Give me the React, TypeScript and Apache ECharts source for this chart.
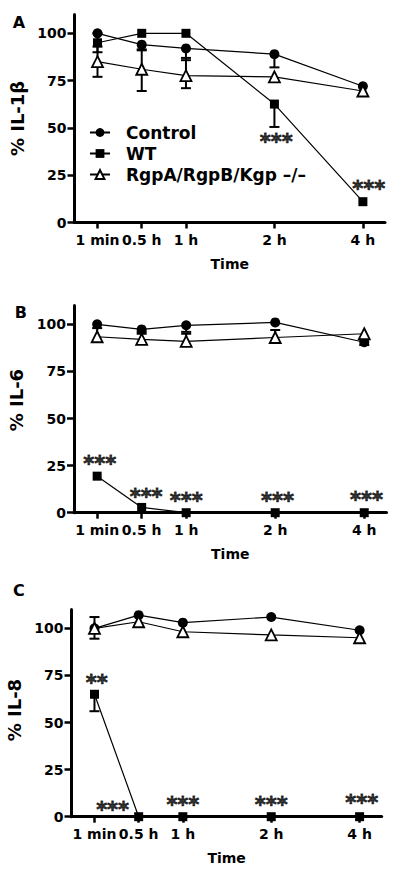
import React, { useEffect, useRef } from "react";
import * as echarts from "echarts";

const FONT = "DejaVu Sans";

const xPos = [0, 1, 2, 4, 6];
const xLabels = ["1 min", "0.5 h", "1 h", "2 h", "4 h"];
const yTicks = [0, 25, 50, 75, 100];
const seriesNames = ["Control", "WT", "RgpA/RgpB/Kgp \u2013/\u2013"];
const yNames = ["% IL-1\u03b2", "% IL-6", "% IL-8"];
const panelLetters = ["A", "B", "C"];

// Panel A (IL-1β)
const controlA = [100, 94, 92, 89, 72];
const wtA = [95, 100, 100, 62.6, 11];
const koA = [85, 81, 77.6, 77, 69.5];
const controlA_lo = [100, 91.5, 85.8, 82, 72];
const controlA_hi = [100, 94, 92, 89, 72];
const wtA_lo = [90, 100, 100, 50.5, 11];
const wtA_hi = [100, 100, 100, 62.6, 11];
const koA_lo = [77, 69.5, 71, 77, 69.5];
const koA_hi = [93, 91, 87, 77, 69.5];
const sigA: [number, number, string][] = [
  [4.04, 42.4, "***"],
  [6.13, 17.7, "***"],
];

// Panel B (IL-6)
const controlB = [100, 97.3, 99.5, 101, 90.5];
const wtB = [19.4, 2.8, 0, 0, 0];
const koB = [93.4, 92, 91, 93, 95];
const controlB_lo = [100, 95, 96, 101, 89];
const controlB_hi = [100, 97.3, 99.5, 101, 92];
const wtB_lo = [19.4, 2.8, 0, 0, 0];
const wtB_hi = [19.4, 2.8, 0, 0, 0];
const koB_lo = [93.4, 92, 91, 93, 95];
const koB_hi = [98, 96, 95, 97, 95];
const sigB: [number, number, string][] = [
  [0.06, 25.8, "***"],
  [1.1, 8.2, "***"],
  [2.0, 6, "***"],
  [4.05, 6, "***"],
  [6.05, 6.9, "***"],
];

// Panel C (IL-8)
const controlC = [100, 107, 103, 106, 99];
const wtC = [65, 0, 0, 0, 0];
const koC = [100, 103.5, 98.2, 96.5, 95];
const controlC_lo = [100, 107, 103, 106, 99];
const controlC_hi = [100, 107, 103, 106, 99];
const wtC_lo = [56, 0, 0, 0, 0];
const wtC_hi = [65, 0, 0, 0, 0];
const koC_lo = [94.5, 103.5, 98.2, 96.5, 95];
const koC_hi = [106, 103.5, 98.2, 96.5, 95];
const sigC: [number, number, string][] = [
  [0.05, 70.8, "**"],
  [0.41, 3.6, "***"],
  [2.0, 6.4, "***"],
  [4.0, 6.4, "***"],
  [6.05, 7.3, "***"],
];

const panels = [
  {
    control: controlA, wt: wtA, ko: koA,
    cLo: controlA_lo, cHi: controlA_hi, wLo: wtA_lo, wHi: wtA_hi, kLo: koA_lo, kHi: koA_hi,
    sig: sigA,
  },
  {
    control: controlB, wt: wtB, ko: koB,
    cLo: controlB_lo, cHi: controlB_hi, wLo: wtB_lo, wHi: wtB_hi, kLo: koB_lo, kHi: koB_hi,
    sig: sigB,
  },
  {
    control: controlC, wt: wtC, ko: koC,
    cLo: controlC_lo, cHi: controlC_hi, wLo: wtC_lo, wHi: wtC_hi, kLo: koC_lo, kHi: koC_hi,
    sig: sigC,
  },
];

// layout (pixels)
const grids = [
  { left: 74.5, right: 15, top: 14.4, height: 208.1 },
  { left: 74, right: 13.5, top: 305.5, height: 207.2 },
  { left: 71.5, right: 18.3, top: 609.5, height: 207.2 },
];
const namePadding = [
  [0, 0, 0, 0],
  [0, 0, 0, 18],
  [0, 0, 0, 6],
];
const letterPos = [
  [19.7, 23.3],
  [21.7, 313.3],
  [20, 591.7],
];

function errData(ys: number[], lo: number[], hi: number[]) {
  return xPos.map((x, i) => [x, ys[i], lo[i], hi[i]]);
}

function renderErr(params: any, api: any) {
  const x = api.value(0);
  const y = api.value(1);
  const lo = api.value(2);
  const hi = api.value(3);
  const children: any[] = [];
  const stroke = { stroke: "#000", lineWidth: 2 };
  const half = 5;
  if (lo < y) {
    const p0 = api.coord([x, y]);
    const p1 = api.coord([x, lo]);
    children.push({ type: "line", shape: { x1: p0[0], y1: p0[1], x2: p1[0], y2: p1[1] }, style: stroke });
    children.push({ type: "line", shape: { x1: p1[0] - half, y1: p1[1], x2: p1[0] + half, y2: p1[1] }, style: stroke });
  }
  if (hi > y) {
    const p0 = api.coord([x, y]);
    const p1 = api.coord([x, hi]);
    children.push({ type: "line", shape: { x1: p0[0], y1: p0[1], x2: p1[0], y2: p1[1] }, style: stroke });
    children.push({ type: "line", shape: { x1: p1[0] - half, y1: p1[1], x2: p1[0] + half, y2: p1[1] }, style: stroke });
  }
  return { type: "group", children };
}

export default function App() {
  const ref = useRef<HTMLDivElement>(null);
  useEffect(() => {
    if (!ref.current) return;
    const chart = echarts.init(ref.current, null, { renderer: "svg" });
    const textBase = { fontFamily: FONT, fontWeight: "bold" as const, color: "#000" };

    const grid = grids.map((g) => ({
      left: g.left,
      right: g.right,
      top: g.top,
      height: g.height,
      containLabel: false,
      outerBoundsMode: "none",
    }));

    const xAxis = grids.map((_, i) => ({
      type: "value",
      gridIndex: i,
      min: -0.52,
      max: 6.5,
      axisLine: { onZero: false, lineStyle: { color: "#000", width: 3 } },
      axisTick: { show: true, customValues: xPos, length: 6, lineStyle: { color: "#000", width: 2.5 } },
      axisLabel: {
        customValues: xPos,
        formatter: (v: number) => xLabels[xPos.indexOf(v)] ?? "",
        margin: 10,
        fontSize: 14,
        ...textBase,
      },
      splitLine: { show: false },
      name: "Time",
      nameLocation: "middle",
      nameGap: 34,
      nameTextStyle: { fontSize: 14, ...textBase },
    }));

    const yAxis = grids.map((_, i) => ({
      type: "value",
      gridIndex: i,
      min: 0,
      max: 110,
      axisLine: { show: true, onZero: false, lineStyle: { color: "#000", width: 3 } },
      axisTick: { show: true, customValues: yTicks, length: 7, lineStyle: { color: "#000", width: 2.5 } },
      axisLabel: { customValues: yTicks, margin: 8, fontSize: 14, ...textBase },
      splitLine: { show: false },
      name: yNames[i],
      nameLocation: "middle",
      nameRotate: 90,
      nameGap: 42,
      nameTextStyle: { fontSize: 18, ...textBase, padding: namePadding[i] },
    }));

    const series: any[] = [];
    panels.forEach((p, i) => {
      [
        errData(p.control, p.cLo, p.cHi),
        errData(p.wt, p.wLo, p.wHi),
        errData(p.ko, p.kLo, p.kHi),
      ].forEach((d) => {
        series.push({
          type: "custom",
          xAxisIndex: i,
          yAxisIndex: i,
          renderItem: renderErr,
          data: d,
          encode: { x: 0, y: [1, 2, 3] },
          z: 1,
          silent: true,
        });
      });
      series.push({
        name: seriesNames[0],
        type: "line",
        xAxisIndex: i,
        yAxisIndex: i,
        data: xPos.map((x, k) => [x, p.control[k]]),
        symbol: "circle",
        symbolSize: 10,
        lineStyle: { color: "#000", width: 1.2 },
        itemStyle: { color: "#000" },
        z: 3,
      });
      series.push({
        name: seriesNames[1],
        type: "line",
        xAxisIndex: i,
        yAxisIndex: i,
        data: xPos.map((x, k) => [x, p.wt[k]]),
        symbol: "rect",
        symbolSize: 9,
        lineStyle: { color: "#000", width: 1.2 },
        itemStyle: { color: "#000" },
        z: 3,
      });
      series.push({
        name: seriesNames[2],
        type: "line",
        xAxisIndex: i,
        yAxisIndex: i,
        data: xPos.map((x, k) => [x, p.ko[k]]),
        symbol: "triangle",
        symbolSize: 11,
        lineStyle: { color: "#000", width: 1.2 },
        itemStyle: { color: "#fff", borderColor: "#000", borderWidth: 1.8 },
        z: 3,
      });
      series.push({
        type: "scatter",
        xAxisIndex: i,
        yAxisIndex: i,
        data: p.sig,
        symbolSize: 0,
        silent: true,
        z: 4,
        itemStyle: { color: "#000" },
        label: {
          show: true,
          position: "inside",
          formatter: (prm: any) => prm.value[2],
          fontSize: 21,
          fontFamily: FONT,
          fontWeight: "bold",
          color: "#000",
          textBorderColor: "#000",
          textBorderWidth: 0.8,
        },
      });
    });

    chart.setOption({
      animation: false,
      backgroundColor: "#fff",
      grid,
      xAxis,
      yAxis,
      legend: {
        data: seriesNames,
        orient: "vertical",
        left: 84,
        top: 119,
        itemWidth: 20,
        itemHeight: 11,
        itemGap: 4,
        textStyle: { fontSize: 17, ...textBase, padding: [0, 0, 0, 11] },
        selectedMode: false,
      },
      graphic: panelLetters.map((t, i) => ({
        type: "text",
        left: letterPos[i][0] - 7,
        top: letterPos[i][1] - 9,
        style: { text: t, fontSize: 16, fontFamily: FONT, fontWeight: "bold", fill: "#000" },
      })),
      series,
    });
    return () => chart.dispose();
  }, []);
  return (
    <div
      ref={ref}
      style={{ position: "absolute", left: 0, top: 0, width: 400, height: 874 }}
    />
  );
}
